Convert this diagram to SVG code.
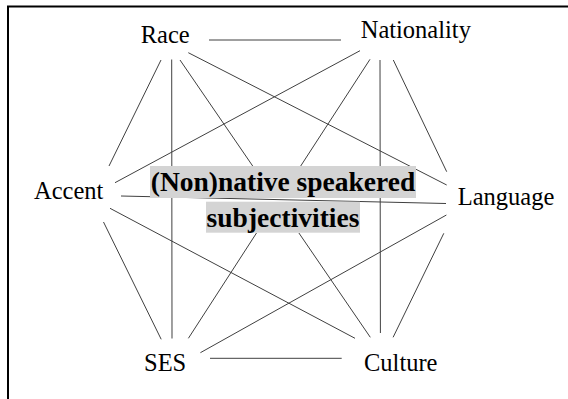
<svg xmlns="http://www.w3.org/2000/svg" width="568" height="399" viewBox="0 0 568 399">
<style>
.lbl{font-family:"Liberation Serif","Times New Roman",serif;font-size:24.5px;fill:#000}
.ctr{font-family:"Liberation Serif","Times New Roman",serif;font-size:27.5px;font-weight:bold;fill:#000;text-anchor:middle}
.conn line{stroke:#404040;stroke-width:1;fill:none}
.bg{fill:#d4d4d4}
</style>
<rect width="568" height="399" fill="#fff"/>
<rect x="8" y="6.5" width="620" height="460" fill="none" stroke="#000" stroke-width="2"/>
<g id="connectors" class="conn">
<line x1="209" y1="40" x2="341" y2="40"/>
<line x1="161" y1="60" x2="109" y2="166"/>
<line x1="171.7" y1="59.5" x2="172" y2="338.5"/>
<line x1="180" y1="60" x2="252.7" y2="166"/>
<line x1="188.3" y1="52.7" x2="446.7" y2="185"/>
<line x1="360" y1="50.7" x2="115" y2="182.7"/>
<line x1="370" y1="59.3" x2="300.7" y2="166"/>
<line x1="380" y1="60" x2="380.4" y2="333"/>
<line x1="393.3" y1="60" x2="446.7" y2="171.7"/>
<line x1="121" y1="196" x2="446" y2="203.5"/>
<line x1="103.5" y1="222" x2="161.2" y2="339.3"/>
<line x1="110" y1="208.3" x2="355" y2="338.3"/>
<line x1="256.5" y1="233" x2="188.4" y2="338.3"/>
<line x1="298.9" y1="233" x2="370.3" y2="337.3"/>
<line x1="446.4" y1="215" x2="200.4" y2="352.7"/>
<line x1="443.8" y1="233.3" x2="393.1" y2="337.3"/>
<line x1="210" y1="358.3" x2="341.7" y2="358.3"/>
</g>
<g id="node-race"><text class="lbl" x="140.7" y="43.3">Race</text></g>
<g id="node-nationality"><text class="lbl" x="360.7" y="38.3">Nationality</text></g>
<g id="node-accent"><text class="lbl" x="34" y="199.3">Accent</text></g>
<g id="node-language"><text class="lbl" x="457.7" y="205">Language</text></g>
<g id="node-ses"><text class="lbl" x="144" y="371">SES</text></g>
<g id="node-culture"><text class="lbl" x="364" y="370.5">Culture</text></g>
<g id="node-center">
<rect class="bg" x="150" y="166" width="266" height="32"/>
<rect class="bg" x="206" y="201.7" width="154" height="31"/>
<text class="ctr" x="283" y="191">(Non)native speakered</text>
<text class="ctr" x="283" y="226.5">subjectivities</text>
</g>
</svg>
